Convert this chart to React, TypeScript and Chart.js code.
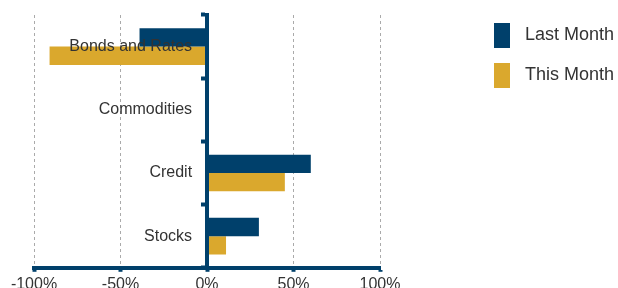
import React, { useEffect, useRef } from "react";
import { Chart, registerables } from "chart.js";

Chart.register(...registerables);

const categories = ["Bonds and Rates", "Commodities", "Credit", "Stocks"];
const seriesNames = ["Last Month", "This Month"];
const lastMonth = [-39, 0, 60, 30];
const thisMonth = [-91, 0, 45, 11];
const xTicks = [-100, -50, 0, 50, 100];

const BLUE = "#00406B";
const GOLD = "#DAA82D";
const TEXT = "#333333";
const FONT = "'Liberation Sans', Arial, Helvetica, sans-serif";

export default function App() {
  const ref = useRef<HTMLCanvasElement>(null);

  useEffect(() => {
    document.body.style.margin = "0";
    document.body.style.overflow = "hidden";
    const chart = new Chart(ref.current as HTMLCanvasElement, {
      type: "bar",
      data: {
        labels: categories,
        datasets: [
          { label: seriesNames[0], data: lastMonth, backgroundColor: BLUE, borderWidth: 0 },
          { label: seriesNames[1], data: thisMonth, backgroundColor: GOLD, borderWidth: 0 },
        ],
      },
      options: {
        indexAxis: "y",
        animation: false,
        responsive: false,
        maintainAspectRatio: false,
        layout: { padding: { top: 14, left: 34, right: 0, bottom: 3 } },
        datasets: { bar: { categoryPercentage: 0.58, barPercentage: 1 } },
        scales: {
          x: {
            type: "linear",
            min: xTicks[0],
            max: xTicks[xTicks.length - 1],
            afterBuildTicks: (s: any) => {
              s.ticks = xTicks.map((v) => ({ value: v }));
            },
            ticks: {
              callback: (v: any) => v + "%",
              font: { family: FONT, size: 16 },
              color: TEXT,
              padding: 3,
              maxRotation: 0,
              autoSkip: false,
            },
            grid: { color: "#aaaaaa", lineWidth: 1, tickColor: BLUE, tickWidth: 4, tickLength: 4 },
            border: { display: true, color: BLUE, width: 4, dash: [3, 3] },
          },
          y: {
            type: "category",
            position: { x: 0 } as any,
            grid: {
              drawOnChartArea: false,
              offset: true,
              color: BLUE,
              tickColor: BLUE,
              tickWidth: 4,
              tickLength: 4,
              z: 1,
            },
            border: { display: true, color: BLUE, width: 4, z: 1 },
            ticks: { display: false, padding: 0 },
          },
          yLabels: {
            type: "category",
            axis: "y",
            labels: categories,
            offset: true,
            position: { x: -8.6 } as any,
            grid: { display: false },
            border: { display: false },
            ticks: { font: { family: FONT, size: 16 }, color: TEXT, padding: 0, z: 2 },
          } as any,
          gap: {
            type: "linear",
            axis: "y",
            position: "right",
            display: true,
            grid: { display: false },
            border: { display: false },
            ticks: { display: false },
            afterFit: (s: any) => {
              s.width = 105;
            },
          } as any,
        },
        plugins: {
          legend: {
            position: "right",
            align: "start",
            maxWidth: 133,
            labels: {
              boxWidth: 28,
              boxHeight: 37,
              padding: 3,
              font: { family: FONT, size: 18 },
              color: TEXT,
              generateLabels: (c: any) =>
                c.data.datasets.map((ds: any, i: number) => ({
                  text: ds.label,
                  fillStyle: ds.backgroundColor,
                  strokeStyle: "#ffffff",
                  lineWidth: 12,
                  hidden: false,
                  datasetIndex: i,
                  fontColor: TEXT,
                })),
            },
          },
          title: {
            display: true,
            text: "",
            fullSize: false,
            padding: 0,
            font: { size: 1, lineHeight: 1 },
          } as any,
          tooltip: { enabled: false },
        },
      } as any,
    });
    return () => chart.destroy();
  }, []);

  return (
    <div style={{ position: "absolute", left: 0, top: 0, width: 618, height: 300 }}>
      <canvas ref={ref} width={618} height={300} style={{ display: "block", width: 618, height: 300 }} />
    </div>
  );
}
